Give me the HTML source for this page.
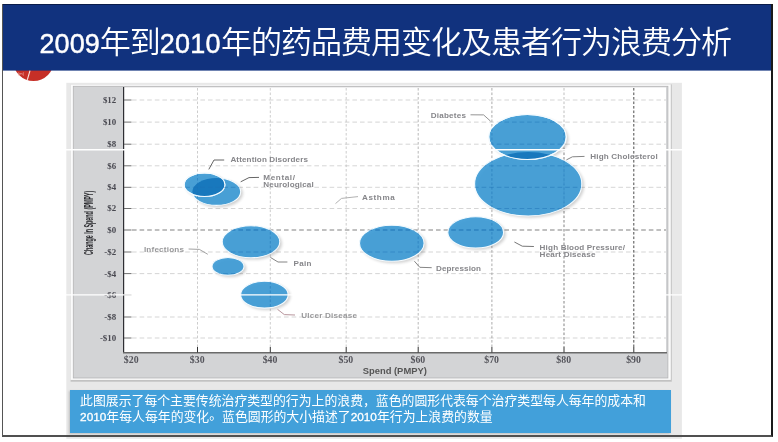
<!DOCTYPE html>
<html lang="zh">
<head>
<meta charset="utf-8">
<title>2009年到2010年的药品费用变化及患者行为浪费分析</title>
<style>
html,body{margin:0;padding:0;background:#fff;}
body{width:778px;height:442px;position:relative;overflow:hidden;font-family:"Liberation Sans","Noto Sans CJK SC",sans-serif;}
#frame{position:absolute;left:2px;top:4px;width:768px;height:431px;border-left:1px solid #555;border-right:2px solid #1a1a1a;border-bottom:2px solid #505050;z-index:5;}
#logo{position:absolute;left:12.9px;top:39.2px;width:41.6px;height:41.6px;border-radius:50%;background:#c62f27;}
#header{position:absolute;left:3px;top:4px;width:768px;height:66px;background:#11327e;box-shadow:0 1px 0 rgba(17,50,126,0.6);border-top:1px solid #0a1c4a;box-sizing:border-box;}
#title{position:absolute;left:39.6px;top:22.6px;margin:0;color:#fff;white-space:nowrap;font-weight:350;font-family:"Liberation Sans","Noto Sans CJK SC",sans-serif;font-size:31px;letter-spacing:-1px;line-height:40px;}
#title b{font-weight:normal;font-size:27px;letter-spacing:0;-webkit-text-stroke:0.45px #fff;}
#title b+b{letter-spacing:0.3px;}
#chart{position:absolute;left:0;top:0;filter:blur(0.35px);}
#cap{position:absolute;left:69.5px;top:390.2px;width:601.5px;height:43px;background:#42a0da;color:#fff;box-shadow:-1px 1px 2px rgba(0,0,0,0.18);}
#cap p{margin:0;position:absolute;left:10.6px;top:2.9px;font-size:12.86px;line-height:16px;white-space:nowrap;font-family:"Liberation Sans","Noto Sans CJK SC",sans-serif;}
#cap u{text-decoration:none;position:relative;top:-2.5px;}
#cap i{font-style:normal;font-size:11.8px;-webkit-text-stroke:0.3px #fff;}
svg text{font-family:"Liberation Sans",sans-serif;font-weight:bold;}
svg text.s{font-family:"Liberation Serif",serif;}
</style>
</head>
<body>
<div id="logo"></div>
<div id="header"></div>
<div id="frame"></div>
<h1 id="title"><b>2009</b>年到<b>2010</b>年的药品费用变化及患者行为浪费分析</h1>
<svg id="chart" width="778" height="442" viewBox="0 0 778 442">
<defs>
<filter id="sh" x="-20%" y="-30%" width="150%" height="170%"><feGaussianBlur stdDeviation="1.8"/></filter>
<filter id="soft" x="-5%" y="-5%" width="110%" height="110%"><feGaussianBlur stdDeviation="0.7"/></filter>
<clipPath id="cA"><ellipse cx="204.5" cy="184.7" rx="20.4" ry="11.8"/></clipPath>
<clipPath id="cD"><ellipse cx="527.5" cy="137" rx="38.8" ry="22.5"/></clipPath>
</defs>
<line x1="30" y1="70.6" x2="27.3" y2="79.8" stroke="#fbe3dc" stroke-width="1.1"/>
<text x="18" y="75" font-size="4" fill="#f0b8b0" style="font-weight:normal">(m)</text>
<rect x="66.3" y="82.8" width="615.6" height="356" fill="#e8e8e8" filter="url(#soft)"/>
<rect x="70.6" y="84.4" width="601.2" height="297.3" fill="#c2c2c2"/>
<rect x="70.6" y="84.4" width="600.2" height="295.5" fill="#fbfbfb"/>
<rect x="73.3" y="86.3" width="594.6" height="291.7" fill="#d3d4d6" stroke="#b4b4b6" stroke-width="0.8"/>
<rect x="124.2" y="87.4" width="541.8" height="264.9" fill="#ffffff"/>
<line x1="132" y1="100" x2="666" y2="100" stroke="#cdcdcd" stroke-width="0.85" stroke-dasharray="4.6 3"/>
<line x1="132" y1="122.1" x2="666" y2="122.1" stroke="#cdcdcd" stroke-width="0.85" stroke-dasharray="4.6 3"/>
<line x1="132" y1="144.2" x2="666" y2="144.2" stroke="#cdcdcd" stroke-width="0.85" stroke-dasharray="4.6 3"/>
<line x1="132" y1="165.8" x2="666" y2="165.8" stroke="#cdcdcd" stroke-width="0.85" stroke-dasharray="4.6 3"/>
<line x1="132" y1="187.3" x2="666" y2="187.3" stroke="#cdcdcd" stroke-width="0.85" stroke-dasharray="4.6 3"/>
<line x1="132" y1="208.5" x2="666" y2="208.5" stroke="#cdcdcd" stroke-width="0.85" stroke-dasharray="4.6 3"/>
<line x1="132" y1="230" x2="666" y2="230" stroke="#6a6a6a" stroke-width="0.85" stroke-dasharray="4.6 3"/>
<line x1="132" y1="252" x2="666" y2="252" stroke="#cdcdcd" stroke-width="0.85" stroke-dasharray="4.6 3"/>
<line x1="132" y1="273.6" x2="666" y2="273.6" stroke="#cdcdcd" stroke-width="0.85" stroke-dasharray="4.6 3"/>
<line x1="132" y1="317" x2="666" y2="317" stroke="#cdcdcd" stroke-width="0.85" stroke-dasharray="4.6 3"/>
<line x1="132" y1="338" x2="666" y2="338" stroke="#cdcdcd" stroke-width="0.85" stroke-dasharray="4.6 3"/>
<line x1="197.5" y1="88" x2="197.5" y2="347" stroke="#c4c4c4" stroke-width="0.85" stroke-dasharray="2.6 1.9"/>
<line x1="270.3" y1="88" x2="270.3" y2="347" stroke="#c4c4c4" stroke-width="0.85" stroke-dasharray="2.6 1.9"/>
<line x1="346.2" y1="88" x2="346.2" y2="347" stroke="#c4c4c4" stroke-width="0.85" stroke-dasharray="2.6 1.9"/>
<line x1="418.2" y1="88" x2="418.2" y2="347" stroke="#acacac" stroke-width="0.85" stroke-dasharray="2.6 1.9"/>
<line x1="491.9" y1="88" x2="491.9" y2="347" stroke="#9c9c9c" stroke-width="0.85" stroke-dasharray="2.6 1.9"/>
<line x1="564" y1="88" x2="564" y2="148" stroke="#b4b4b4" stroke-width="0.85" stroke-dasharray="2.6 1.9"/>
<line x1="564" y1="148" x2="564" y2="347" stroke="#6e6e6e" stroke-width="0.85" stroke-dasharray="2.6 1.9"/>
<line x1="633.8" y1="88" x2="633.8" y2="347" stroke="#2a2a2a" stroke-width="0.85" stroke-dasharray="2.6 1.9"/>
<line x1="123.6" y1="87" x2="123.6" y2="353" stroke="#2a2a30" stroke-width="1.15"/>
<line x1="123" y1="352.7" x2="667" y2="352.7" stroke="#6a6a6a" stroke-width="1.4"/>
<line x1="124" y1="100" x2="131.5" y2="100" stroke="#555" stroke-width="0.85"/>
<line x1="124" y1="122.1" x2="131.5" y2="122.1" stroke="#555" stroke-width="0.85"/>
<line x1="124" y1="144.2" x2="131.5" y2="144.2" stroke="#555" stroke-width="0.85"/>
<line x1="124" y1="165.8" x2="131.5" y2="165.8" stroke="#555" stroke-width="0.85"/>
<line x1="124" y1="187.3" x2="131.5" y2="187.3" stroke="#555" stroke-width="0.85"/>
<line x1="124" y1="208.5" x2="131.5" y2="208.5" stroke="#555" stroke-width="0.85"/>
<line x1="124" y1="230" x2="131.5" y2="230" stroke="#555" stroke-width="0.85"/>
<line x1="124" y1="252" x2="131.5" y2="252" stroke="#555" stroke-width="0.85"/>
<line x1="124" y1="273.6" x2="131.5" y2="273.6" stroke="#555" stroke-width="0.85"/>
<line x1="124" y1="294.8" x2="131.5" y2="294.8" stroke="#555" stroke-width="0.85"/>
<line x1="124" y1="317" x2="131.5" y2="317" stroke="#555" stroke-width="0.85"/>
<line x1="124" y1="338" x2="131.5" y2="338" stroke="#555" stroke-width="0.85"/>
<line x1="197.5" y1="347" x2="197.5" y2="352.5" stroke="#333" stroke-width="1"/>
<line x1="270.3" y1="347" x2="270.3" y2="352.5" stroke="#333" stroke-width="1"/>
<line x1="346.2" y1="347" x2="346.2" y2="352.5" stroke="#333" stroke-width="1"/>
<line x1="418.2" y1="347" x2="418.2" y2="352.5" stroke="#333" stroke-width="1"/>
<line x1="491.9" y1="347" x2="491.9" y2="352.5" stroke="#333" stroke-width="1"/>
<line x1="564" y1="347" x2="564" y2="352.5" stroke="#333" stroke-width="1"/>
<line x1="633.8" y1="347" x2="633.8" y2="352.5" stroke="#333" stroke-width="1"/>
<text x="116.2" y="102.9" font-size="8.9" text-anchor="end" fill="#484850" class="s">$12</text>
<text x="116.2" y="125.0" font-size="8.9" text-anchor="end" fill="#484850" class="s">$10</text>
<text x="116.2" y="147.1" font-size="8.9" text-anchor="end" fill="#484850" class="s">$8</text>
<text x="116.2" y="168.70000000000002" font-size="8.9" text-anchor="end" fill="#484850" class="s">$6</text>
<text x="116.2" y="190.20000000000002" font-size="8.9" text-anchor="end" fill="#484850" class="s">$4</text>
<text x="116.2" y="211.4" font-size="8.9" text-anchor="end" fill="#484850" class="s">$2</text>
<text x="116.2" y="232.9" font-size="8.9" text-anchor="end" fill="#484850" class="s">$0</text>
<text x="116.2" y="254.9" font-size="8.9" text-anchor="end" fill="#484850" class="s">-$2</text>
<text x="116.2" y="276.5" font-size="8.9" text-anchor="end" fill="#484850" class="s">-$4</text>
<text x="116.2" y="297.7" font-size="8.9" text-anchor="end" fill="#484850" class="s">-$6</text>
<text x="116.2" y="319.9" font-size="8.9" text-anchor="end" fill="#484850" class="s">-$8</text>
<text x="116.2" y="340.9" font-size="8.9" text-anchor="end" fill="#484850" class="s">-$10</text>
<text x="131.2" y="362.5" font-size="9.8" text-anchor="middle" fill="#55555c" class="s">$20</text>
<text x="197.2" y="362.5" font-size="9.8" text-anchor="middle" fill="#55555c" class="s">$30</text>
<text x="270.0" y="362.5" font-size="9.8" text-anchor="middle" fill="#55555c" class="s">$40</text>
<text x="345.9" y="362.5" font-size="9.8" text-anchor="middle" fill="#55555c" class="s">$50</text>
<text x="417.9" y="362.5" font-size="9.8" text-anchor="middle" fill="#55555c" class="s">$60</text>
<text x="491.59999999999997" y="362.5" font-size="9.8" text-anchor="middle" fill="#55555c" class="s">$70</text>
<text x="563.7" y="362.5" font-size="9.8" text-anchor="middle" fill="#55555c" class="s">$80</text>
<text x="633.5" y="362.5" font-size="9.8" text-anchor="middle" fill="#55555c" class="s">$90</text>
<text x="394.8" y="374.2" font-size="9.4" text-anchor="middle" fill="#555">Spend (PMPY)</text>
<text transform="translate(92.6,255) rotate(-90)" font-size="12.6" fill="#2a2a2e" textLength="64.2" lengthAdjust="spacingAndGlyphs">Change In Spend (PMPY)</text>
<g fill="#000" opacity="0.19" filter="url(#sh)" transform="translate(2.2,1.8)">
<ellipse cx="216.5" cy="191.7" rx="24.2" ry="13.7" />
<ellipse cx="204.5" cy="184.7" rx="20.4" ry="11.8" />
<ellipse cx="528.2" cy="184" rx="53.6" ry="32" />
<ellipse cx="527.5" cy="137" rx="38.8" ry="22.5" />
<ellipse cx="391.8" cy="243.2" rx="32.3" ry="18" />
<ellipse cx="475.7" cy="232.4" rx="27.9" ry="15.6" />
<ellipse cx="251" cy="241.8" rx="28.8" ry="16" />
<ellipse cx="228" cy="266.4" rx="16" ry="8.9" />
<ellipse cx="264.4" cy="294.7" rx="23.8" ry="13.4" />
</g>
<g fill="#3d9bd5" fill-opacity="0.93" stroke="#f4fbff" stroke-width="1.1">
<ellipse cx="216.5" cy="191.7" rx="24.2" ry="13.7" />
<ellipse cx="204.5" cy="184.7" rx="20.4" ry="11.8" />
<ellipse cx="528.2" cy="184" rx="53.6" ry="32" />
<ellipse cx="527.5" cy="137" rx="38.8" ry="22.5" />
<ellipse cx="391.8" cy="243.2" rx="32.3" ry="18" />
<ellipse cx="475.7" cy="232.4" rx="27.9" ry="15.6" />
<ellipse cx="251" cy="241.8" rx="28.8" ry="16" />
<ellipse cx="228" cy="266.4" rx="16" ry="8.9" />
<ellipse cx="264.4" cy="294.7" rx="23.8" ry="13.4" />
</g>
<g fill="#1878bd">
<ellipse cx="216.5" cy="191.7" rx="24.2" ry="13.7" clip-path="url(#cA)"/>
<ellipse cx="528.2" cy="184" rx="53.6" ry="32" clip-path="url(#cD)"/>
</g>
<g fill="none" stroke="#f4fbff" stroke-width="1.1"><ellipse cx="204.5" cy="184.7" rx="20.4" ry="11.8" /><ellipse cx="527.5" cy="137" rx="38.8" ry="22.5" /></g>
<clipPath id="cE">
<ellipse cx="216.5" cy="191.7" rx="24.2" ry="13.7" />
<ellipse cx="204.5" cy="184.7" rx="20.4" ry="11.8" />
<ellipse cx="528.2" cy="184" rx="53.6" ry="32" />
<ellipse cx="527.5" cy="137" rx="38.8" ry="22.5" />
<ellipse cx="391.8" cy="243.2" rx="32.3" ry="18" />
<ellipse cx="475.7" cy="232.4" rx="27.9" ry="15.6" />
<ellipse cx="251" cy="241.8" rx="28.8" ry="16" />
<ellipse cx="228" cy="266.4" rx="16" ry="8.9" />
<ellipse cx="264.4" cy="294.7" rx="23.8" ry="13.4" />
</clipPath>
<g clip-path="url(#cE)" stroke="#1c6fb4" stroke-opacity="0.42" stroke-width="1">
<line x1="132" y1="100" x2="666" y2="100" stroke-dasharray="4.6 3"/>
<line x1="132" y1="122.1" x2="666" y2="122.1" stroke-dasharray="4.6 3"/>
<line x1="132" y1="144.2" x2="666" y2="144.2" stroke-dasharray="4.6 3"/>
<line x1="132" y1="165.8" x2="666" y2="165.8" stroke-dasharray="4.6 3"/>
<line x1="132" y1="187.3" x2="666" y2="187.3" stroke-dasharray="4.6 3"/>
<line x1="132" y1="208.5" x2="666" y2="208.5" stroke-dasharray="4.6 3"/>
<line x1="132" y1="230" x2="666" y2="230" stroke-dasharray="4.6 3" stroke-opacity="0.8"/>
<line x1="132" y1="252" x2="666" y2="252" stroke-dasharray="4.6 3"/>
<line x1="132" y1="273.6" x2="666" y2="273.6" stroke-dasharray="4.6 3"/>
<line x1="132" y1="317" x2="666" y2="317" stroke-dasharray="4.6 3"/>
<line x1="132" y1="338" x2="666" y2="338" stroke-dasharray="4.6 3"/>
<line x1="197.5" y1="88" x2="197.5" y2="347" stroke-dasharray="2.6 1.9"/>
<line x1="270.3" y1="88" x2="270.3" y2="347" stroke-dasharray="2.6 1.9"/>
<line x1="346.2" y1="88" x2="346.2" y2="347" stroke-dasharray="2.6 1.9"/>
<line x1="418.2" y1="88" x2="418.2" y2="347" stroke-dasharray="2.6 1.9"/>
<line x1="491.9" y1="88" x2="491.9" y2="347" stroke-dasharray="2.6 1.9"/>
<line x1="564" y1="88" x2="564" y2="347" stroke-dasharray="2.6 1.9"/>
<line x1="633.8" y1="88" x2="633.8" y2="347" stroke-dasharray="2.6 1.9"/>
</g>
<polyline points="208.8,169.4 214,160 224.2,160" fill="none" stroke="#555" stroke-width="0.9"/>
<polyline points="240.7,181.8 249,177.6 259,177.4" fill="none" stroke="#555" stroke-width="0.9"/>
<polyline points="188.6,249 199.4,249.4 207.8,254.3" fill="none" stroke="#999" stroke-width="0.9"/>
<polyline points="270.4,257.4 278,262 287.4,262" fill="none" stroke="#777" stroke-width="0.9"/>
<polyline points="277.5,309.3 284.3,314.6 295,315" fill="none" stroke="#b08a92" stroke-width="0.9"/>
<polyline points="414.4,261.2 419.8,267.3 431.7,267.7" fill="none" stroke="#777" stroke-width="0.9"/>
<polyline points="514.4,242 522.3,246.2 533.9,246.5" fill="none" stroke="#666" stroke-width="0.9"/>
<polyline points="335.5,203.6 341.5,198.4 358,196.6" fill="none" stroke="#a8a8a8" stroke-width="0.9"/>
<polyline points="470.5,114.8 483.6,114.9 490.6,121.2" fill="none" stroke="#888" stroke-width="0.9"/>
<polyline points="566.4,159.9 572.4,156.8 584.5,156.4" fill="none" stroke="#777" stroke-width="0.9"/>
<text x="230.4" y="161.9" font-size="8.1" fill="#86868a" textLength="77.6" lengthAdjust="spacing">Attention Disorders</text>
<text x="263.3" y="179.9" font-size="8.1" fill="#86868a" textLength="31.7" lengthAdjust="spacing">Mental/</text>
<text x="263.3" y="187.1" font-size="8.1" fill="#86868a" textLength="50.4" lengthAdjust="spacing">Neurological</text>
<text x="362" y="199.8" font-size="8.1" fill="#86868a" textLength="32.7" lengthAdjust="spacing">Asthma</text>
<text x="143.9" y="251.7" font-size="8.1" fill="#98989a" textLength="40.1" lengthAdjust="spacing">Infections</text>
<text x="293.6" y="265.5" font-size="8.1" fill="#86868a" textLength="17.9" lengthAdjust="spacing">Pain</text>
<text x="301.3" y="317.9" font-size="8.1" fill="#98989a" textLength="55.6" lengthAdjust="spacing">Ulcer Disease</text>
<text x="436" y="270.6" font-size="8.1" fill="#86868a" textLength="45" lengthAdjust="spacing">Depression</text>
<text x="539.6" y="249.7" font-size="8.1" fill="#86868a" textLength="85.4" lengthAdjust="spacing">High Blood Pressure/</text>
<text x="539.6" y="256.9" font-size="8.1" fill="#86868a" textLength="55.8" lengthAdjust="spacing">Heart Disease</text>
<text x="430.7" y="117.9" font-size="8.1" fill="#86868a" textLength="35.3" lengthAdjust="spacing">Diabetes</text>
<text x="590.2" y="158.7" font-size="8.1" fill="#86868a" textLength="67.5" lengthAdjust="spacing">High Cholesterol</text>
<line x1="66" y1="149.7" x2="684" y2="149.7" stroke="#fff" stroke-width="1.4"/>
<line x1="66" y1="294.8" x2="684" y2="294.8" stroke="#fff" stroke-width="1.2"/>
</svg>
<div id="cap"><p>此图展示了每个主要传统治疗类型的行为上的浪费，蓝色的圆形代表每个治疗类型每人每年的成本和<br><i>2010</i>年每人每年的变化<u>。</u>蓝色圆形的大小描述了<i>2010</i>年行为上浪费的数量</p></div>
</body>
</html>
